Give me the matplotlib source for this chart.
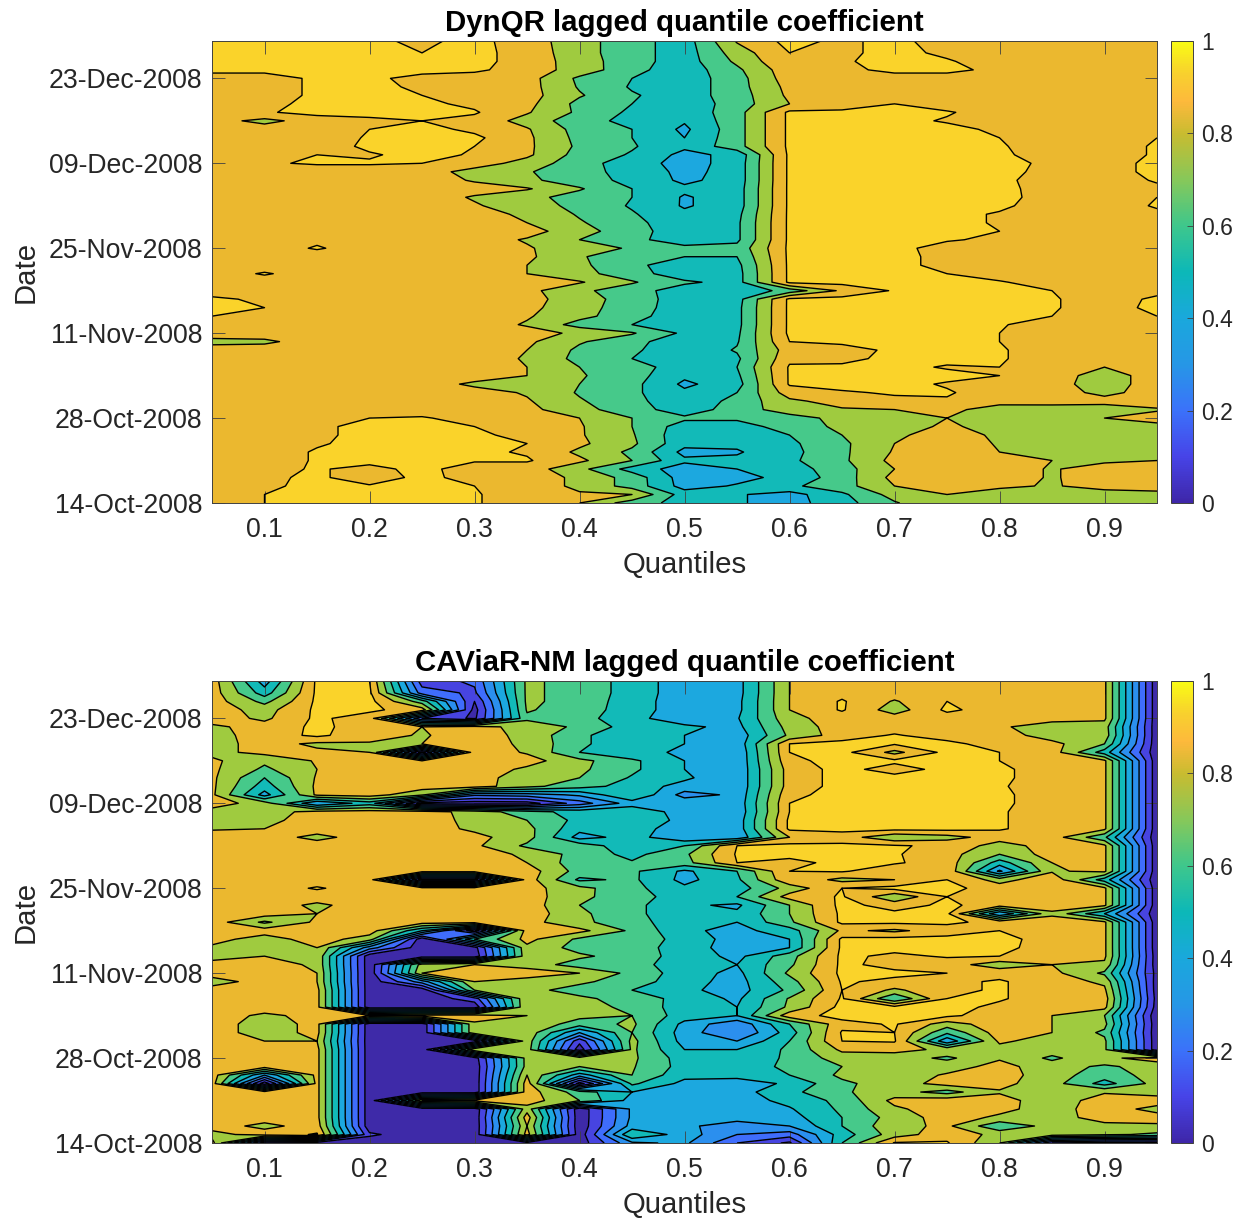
import matplotlib
matplotlib.use('Agg')
import matplotlib.pyplot as plt
import numpy as np
from matplotlib.cm import ScalarMappable
from matplotlib.colors import LinearSegmentedColormap, Normalize

plt.rcParams['font.family'] = ['Liberation Sans', 'DejaVu Sans']

quantiles = [0.05, 0.10, 0.15, 0.20, 0.25, 0.30, 0.35, 0.40, 0.45, 0.50,
             0.55, 0.60, 0.65, 0.70, 0.75, 0.80, 0.85, 0.90, 0.95]
date_ticks = [0, 10, 20, 30, 40, 50]
date_labels = ['14-Oct-2008', '28-Oct-2008', '11-Nov-2008',
               '25-Nov-2008', '09-Dec-2008', '23-Dec-2008']
quantile_ticks = [0.1, 0.2, 0.3, 0.4, 0.5, 0.6, 0.7, 0.8, 0.9]

# rows run from the last date (top of the panel) down to the first, in hundredths
dynqr = [
    [93,93,93,92,88,93,85,74,64,55,81,93,88,93,85,85,85,85,85],
    [93,93,93,93,90,93,86,74,64,55,75,90,88,93,88,85,85,85,85],
    [93,93,93,93,92,93,86,75,64,55,72,89,89,93,91,85,85,85,85],
    [93,93,93,93,93,92,85,76,63,54,68,86,87,93,93,87,85,85,85],
    [85,85,92,92,87,85,84,68,60,54,66,85,85,85,85,85,85,85,85],
    [85,85,92,93,88,85,84,69,59,54,66,83,85,85,85,85,85,85,85],
    [85,85,92,93,90,86,84,71,61,55,65,82,85,85,85,85,85,85,85],
    [85,87,93,93,92,88,83,67,60,53,65,80,85,90,85,85,85,85,85],
    [85,89,93,93,93,91,81,68,58,53,66,92,92,93,91,85,85,85,85],
    [84,77,85,88,90,87,76,64,57,51,66,92,93,93,89,85,85,85,85],
    [85,85,85,90,93,88,81,66,60,48,66,92,93,93,93,88,85,85,85],
    [85,85,85,91,93,92,82,67,60,50,66,92,93,93,93,90,85,85,90],
    [85,85,85,92,93,90,82,68,61,52,66,92,93,93,93,91,85,86,91],
    [85,88,90,89,93,89,82,66,59,47,53,92,93,93,93,92,85,86,91],
    [85,89,91,91,90,85,76,64,55,46,54,92,93,93,93,93,88,87,92],
    [85,85,85,85,85,76,71,63,57,47,54,92,93,93,93,92,88,87,92],
    [85,85,85,85,85,79,72,65,57,48,54,92,93,93,93,92,86,85,91],
    [85,85,85,85,85,84,81,71,60,52,55,92,93,93,93,92,87,85,88],
    [85,85,85,85,85,79,73,66,60,49,55,92,93,93,93,93,86,87,90],
    [85,85,85,85,85,81,75,67,59,49,55,92,93,93,93,92,85,85,91],
    [85,85,85,85,85,84,78,69,61,52,57,92,93,93,93,89,85,85,88],
    [85,85,85,85,85,85,80,71,63,53,58,92,93,93,93,89,85,85,85],
    [85,85,85,85,85,85,84,74,64,54,58,92,93,93,92,90,85,85,85],
    [85,85,88,85,85,85,79,70,62,56,58,92,93,93,91,88,85,85,88],
    [85,85,91,85,85,85,81,74,69,62,63,92,93,93,86,85,85,85,85],
    [85,85,85,85,85,85,82,71,64,60,60,92,93,93,87,85,85,85,85],
    [85,85,85,85,85,85,80,72,63,53,57,92,93,93,87,85,85,85,85],
    [85,91,85,85,85,85,80,73,65,53,56,92,93,93,90,85,85,85,85],
    [85,85,85,85,85,85,85,81,71,62,56,92,93,93,93,91,85,85,85],
    [85,85,85,85,85,85,83,72,65,54,52,64,82,91,93,93,90,85,87],
    [92,88,85,85,85,85,84,74,66,54,56,92,93,93,93,93,91,85,92],
    [93,90,85,85,85,85,83,73,66,53,57,92,93,93,93,93,91,85,93],
    [90,88,85,85,85,85,81,73,64,53,57,92,93,93,93,93,90,85,90],
    [85,85,85,85,85,85,79,66,60,53,57,92,93,93,93,91,85,85,88],
    [85,85,85,85,85,85,84,78,71,58,58,92,93,93,93,90,85,85,86],
    [77,78,85,85,85,85,82,71,64,52,59,90,91,93,93,90,85,85,85],
    [85,85,85,85,85,85,80,68,62,52,61,85,88,91,93,91,85,85,85],
    [85,85,85,85,85,85,79,67,60,52,58,88,87,93,93,91,85,85,85],
    [85,85,85,85,85,85,80,70,65,54,60,91,92,93,89,90,85,80,85],
    [85,85,85,85,85,85,80,71,64,52,58,91,93,93,93,90,85,75,85],
    [85,85,85,85,85,78,76,70,63,48,56,91,93,93,89,86,83,76,84],
    [85,85,85,85,85,84,79,69,62,52,60,85,89,91,91,85,85,77,85],
    [85,85,85,85,85,85,81,71,63,53,63,78,84,88,89,84,85,84,85],
    [85,85,85,85,85,85,83,73,65,54,65,75,79,80,83,75,74,74,79],
    [85,85,87,90,91,86,85,80,70,62,62,66,73,76,80,76,75,80,84],
    [85,85,88,93,93,90,85,81,70,55,55,65,72,72,83,73,75,75,77],
    [85,85,88,93,93,92,87,81,71,53,53,60,70,78,85,78,75,75,75],
    [85,85,89,93,93,93,90,82,72,53,52,58,68,80,86,79,75,75,75],
    [85,85,91,93,93,92,89,78,68,47,49,57,68,81,86,80,75,75,77],
    [85,85,91,93,93,91,91,82,70,52,52,58,68,83,85,84,80,78,80],
    [85,87,91,87,93,85,85,73,56,45,50,55,66,80,85,85,79,85,85],
    [85,88,92,84,93,86,85,78,66,45,47,53,65,83,85,85,79,85,85],
    [85,88,93,91,91,90,85,78,66,46,51,58,66,80,85,82,79,84,83],
    [85,90,93,93,93,91,84,81,80,55,51,46,58,74,80,75,75,75,78],
    [85,90,91,91,91,91,84,80,65,56,51,46,56,69,79,75,75,75,75],
]

caviar = [
    [85,45,92,90,15,22,72,66,56,44,46,80,85,85,85,85,85,82,3],
    [85,55,92,92,25,18,72,66,56,44,46,80,87,85,85,85,85,82,3],
    [85,67,92,93,65,10,72,66,55,44,47,80,91,79,90,85,85,82,3],
    [85,76,92,92,85,6,71,65,55,44,47,80,91,75,92,85,85,82,3],
    [85,78,92,85,20,8,68,64,53,44,49,77,85,85,85,85,85,82,3],
    [78,84,92,86,80,84,76,68,55,52,47,74,85,85,85,82,73,75,3],
    [76,85,92,84,79,85,77,62,53,50,44,72,85,91,85,85,75,76,3],
    [76,84,78,79,80,85,78,62,53,50,43,90,93,91,93,85,83,70,3],
    [77,83,82,80,5,86,79,60,52,49,41,90,93,77,93,90,85,55,3],
    [82,72,81,85,80,85,84,73,62,50,41,88,93,92,92,90,85,82,3],
    [82,68,80,86,86,86,78,72,62,50,41,85,93,86,93,92,85,82,3],
    [82,60,81,85,85,85,74,70,59,52,41,85,93,93,93,92,85,82,3],
    [82,55,82,85,85,85,73,64,56,46,41,85,93,93,93,91,85,82,3],
    [82,46,82,85,72,32,35,42,60,36,42,88,93,93,93,92,85,82,3],
    [85,75,40,55,5,4,5,25,45,47,43,90,93,93,93,92,85,82,3],
    [76,76,83,84,85,76,64,56,58,45,42,90,93,93,93,91,85,82,3],
    [77,77,85,85,85,77,70,57,60,46,44,92,93,93,93,91,85,82,3],
    [79,80,85,85,85,78,73,53,55,44,44,92,93,93,93,91,85,82,3],
    [85,85,77,85,85,83,74,46,54,42,42,80,85,72,76,85,85,62,3],
    [85,85,85,85,85,82,68,66,53,60,90,93,92,91,88,75,85,82,3],
    [85,85,85,85,85,85,78,66,57,68,91,93,93,91,84,70,85,82,3],
    [85,85,85,85,85,85,80,64,61,66,90,87,93,91,86,55,80,82,3],
    [85,85,85,85,85,85,85,66,62,48,60,90,91,84,88,38,79,82,3],
    [85,85,85,85,5,5,85,58,62,47,58,88,77,80,90,76,87,55,3],
    [85,85,91,85,85,85,84,73,63,52,55,74,90,93,93,85,85,82,3],
    [85,85,85,85,85,85,85,72,65,54,60,84,91,72,90,85,85,82,3],
    [85,85,78,85,85,85,85,70,63,52,48,70,93,86,92,85,85,82,3],
    [85,85,80,85,85,85,86,72,63,52,52,70,92,92,92,40,78,50,3],
    [85,68,82,85,85,85,84,72,65,52,50,68,92,92,92,87,85,82,3],
    [85,85,85,85,50,3,85,83,68,52,47,55,82,78,85,90,85,82,3],
    [84,75,85,75,3,60,83,68,65,57,45,50,92,93,93,93,86,82,3],
    [78,75,80,35,3,6,78,66,65,55,45,50,92,93,93,93,85,82,3],
    [75,80,78,3,3,3,77,72,65,56,47,66,92,88,91,90,84,82,4],
    [85,85,78,3,75,80,76,65,65,53,50,68,92,87,85,74,80,78,4],
    [85,85,80,3,80,85,85,80,67,55,47,72,92,92,90,87,83,68,6],
    [75,85,80,3,35,80,76,72,65,54,46,66,91,88,88,91,85,78,5],
    [85,85,83,3,3,70,73,66,60,52,46,62,90,78,88,91,85,82,5],
    [85,85,83,3,3,15,79,72,66,56,48,71,91,60,90,91,85,85,6],
    [85,85,83,3,3,3,80,75,67,55,50,72,93,93,93,88,85,83,5],
    [85,78,83,80,85,86,80,73,70,55,50,86,93,92,92,85,80,70,2],
    [85,75,83,3,3,78,78,65,72,47,32,60,87,91,75,86,80,73,3],
    [85,75,83,3,3,78,77,40,70,45,30,55,91,90,62,85,80,68,3],
    [85,80,80,3,3,3,76,13,73,46,40,60,90,91,42,82,75,72,3],
    [85,85,83,3,3,80,75,4,72,50,50,62,82,83,78,76,75,72,3],
    [85,85,83,3,3,5,74,76,72,55,52,62,75,75,68,79,68,78,84],
    [85,85,83,3,3,3,74,70,71,56,55,62,70,76,76,83,75,68,75],
    [85,40,83,3,3,3,80,45,70,53,54,60,72,75,81,85,74,65,74],
    [85,3,83,3,3,3,85,5,62,47,44,52,68,75,84,83,74,56,74],
    [85,85,83,3,3,3,85,65,50,44,46,57,69,74,66,79,75,79,75],
    [85,85,83,3,80,84,85,70,46,43,45,53,63,83,86,84,74,85,86],
    [85,85,83,3,3,3,76,3,42,43,42,49,62,78,86,83,75,86,76],
    [85,85,83,3,3,3,85,3,42,41,44,46,60,74,85,78,74,86,85],
    [85,77,85,3,3,3,80,3,44,42,35,40,60,77,82,62,74,76,78],
    [76,85,91,12,3,3,84,4,60,45,30,25,55,75,86,77,76,72,68],
    [84,2,3,3,2,5,5,4,38,42,20,8,60,91,91,70,10,5,5],
]

levels = [0, 0.1, 0.2, 0.3, 0.4, 0.5, 0.6, 0.7, 0.8, 0.9, 1.0]
fill_colors = ['#3E2AA8', '#4744E0', '#3F6DFC', '#2B8FEE', '#1CA8DF',
               '#12BAB8', '#46C98A', '#9FCB3F', '#EBB82F', '#FAD32A']
parula = LinearSegmentedColormap.from_list('parula', [
    (0.0, '#3E26A8'), (0.1, '#4744E8'), (0.2, '#3B72FA'), (0.3, '#2697E6'),
    (0.4, '#1AA8DC'), (0.5, '#0CB8B8'), (0.6, '#3EC78C'), (0.7, '#86C85A'),
    (0.8, '#C8BC30'), (0.87, '#FDB93C'), (0.93, '#F8D02E'), (1.0, '#F9FB15')])

fig = plt.figure(figsize=(12.48, 12.24), dpi=100)
W, H = 1248, 1224


def panel(data, title, top, bottom):
    ax = fig.add_axes([212/W, 1-bottom/H, 945/W, (bottom-top)/H])
    z = np.array(data[::-1])/100
    y = list(range(54)) + [54.4]
    ax.contourf(quantiles, y, z, levels=levels, colors=fill_colors)
    ax.contour(quantiles, y, z, levels=levels, colors='k', linewidths=1.0)
    ax.set_xlim(0.05, 0.95)
    ax.set_ylim(0, 54.4)
    ax.set_xticks(quantile_ticks)
    ax.set_xticklabels([str(q) for q in quantile_ticks])
    ax.set_yticks(date_ticks)
    ax.set_yticklabels(date_labels)
    ax.tick_params(direction='in', length=9, width=0.6, color='#404040',
                   labelsize=19.2, labelcolor='#262626', top=True, right=True)
    ax.tick_params(axis='x', pad=10)
    ax.tick_params(axis='y', pad=7)
    for s in ax.spines.values():
        s.set_linewidth(0.7)
        s.set_color('#404040')
    ax.set_xlabel('Quantiles', fontsize=21.2, color='#262626', labelpad=6)
    ax.set_ylabel('Date', fontsize=21.2, color='#262626', labelpad=6.5)
    ax.set_title(title, fontsize=21.2, fontweight='bold', pad=7)

    cax = fig.add_axes([1171/W, 1-bottom/H, 22/W, (bottom-top)/H])
    cb = fig.colorbar(ScalarMappable(Normalize(0, 1), parula), cax=cax)
    cb.set_ticks([0, 0.2, 0.4, 0.6, 0.8, 1])
    cb.set_ticklabels(['0', '0.2', '0.4', '0.6', '0.8', '1'])
    cax.tick_params(direction='in', length=4, width=0.6, color='#404040',
                    labelsize=16.5, labelcolor='#262626', pad=6)
    cb.outline.set_linewidth(0.7)
    cb.outline.set_edgecolor('#404040')


panel(dynqr, 'DynQR lagged quantile coefficient', 41, 503)
panel(caviar, 'CAViaR-NM lagged quantile coefficient', 681, 1143)

fig.savefig('out.png', dpi=100)
